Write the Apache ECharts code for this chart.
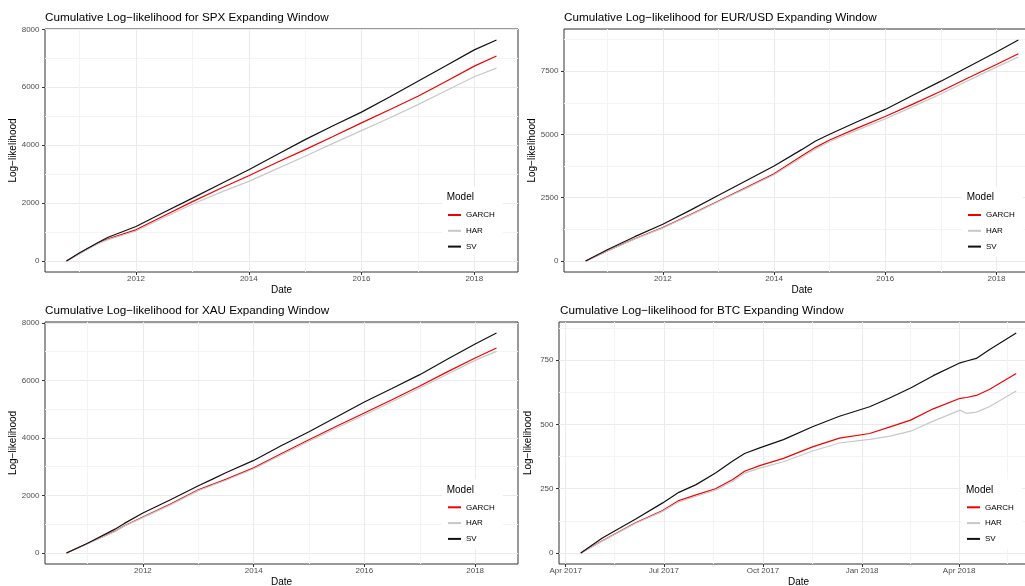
<!DOCTYPE html>
<html>
<head>
<meta charset="utf-8">
<script src="https://cdn.jsdelivr.net/npm/echarts@6/dist/echarts.min.js"></script>
<style>
html,body{margin:0;padding:0;background:#fff;}
#chart{width:1025px;height:586px;}
</style>
</head>
<body>
<div id="chart"></div>
<script>
// ---------- DATA ----------
const modelNames = ['GARCH', 'HAR', 'SV'];

const spxTitle = 'Cumulative Log\u2212likelihood for SPX Expanding Window';
const spxDates = ['2010-10-08','2011-01-01','2011-05-01','2011-07-01','2012-01-01','2012-07-01','2013-01-01','2013-07-01','2014-01-01','2014-07-01','2015-01-01','2015-07-01','2016-01-01','2016-07-01','2017-01-01','2017-07-01','2018-01-01','2018-05-25'];
const spxGARCH = [0,260,620,760,1075,1560,2050,2500,2945,3400,3845,4300,4770,5220,5690,6200,6730,7080];
const spxHAR   = [0,250,600,730,1035,1500,1960,2370,2750,3180,3615,4060,4500,4940,5400,5880,6360,6660];
const spxSV    = [0,280,640,810,1188,1680,2170,2660,3150,3670,4190,4670,5140,5660,6210,6740,7290,7630];
const spxXMajor = ['2012-01-01','2014-01-01','2016-01-01','2018-01-01'];
const spxXMinor = ['2011-01-01','2013-01-01','2015-01-01','2017-01-01'];
const spxXLabels = ['2012','2014','2016','2018'];
const spxYMajor = [0,2000,4000,6000,8000];
const spxYMinor = [1000,3000,5000,7000];

const eurTitle = 'Cumulative Log\u2212likelihood for EUR/USD Expanding Window';
const eurDates = ['2010-08-12','2011-01-01','2011-07-01','2012-01-01','2012-07-01','2013-01-01','2013-07-01','2014-01-01','2014-07-01','2014-10-01','2015-01-01','2015-07-01','2016-01-01','2016-07-01','2017-01-01','2017-07-01','2018-01-01','2018-05-25'];
const eurGARCH = [0,400,880,1321,1830,2370,2900,3450,4150,4490,4780,5250,5710,6200,6710,7240,7768,8190];
const eurHAR   = [0,395,870,1300,1810,2350,2870,3410,4090,4430,4720,5170,5610,6100,6600,7130,7660,8060];
const eurSV    = [0,440,960,1453,2010,2600,3170,3750,4400,4740,5010,5500,5990,6550,7107,7680,8256,8732];
const eurXMajor = ['2012-01-01','2014-01-01','2016-01-01','2018-01-01'];
const eurXMinor = ['2011-01-01','2013-01-01','2015-01-01','2017-01-01'];
const eurXLabels = ['2012','2014','2016','2018'];
const eurYMajor = [0,2500,5000,7500];
const eurYMinor = [1250,3750,6250,8750];

const xauTitle = 'Cumulative Log\u2212likelihood for XAU Expanding Window';
const xauDates = ['2010-08-15','2011-01-01','2011-07-01','2011-09-01','2012-01-01','2012-07-01','2013-01-01','2013-04-01','2013-07-01','2014-01-01','2014-07-01','2015-01-01','2015-07-01','2016-01-01','2016-07-01','2017-01-01','2017-07-01','2018-01-01','2018-05-22'];
const xauGARCH = [0,330,760,950,1250,1700,2200,2380,2560,2960,3450,3940,4410,4870,5330,5809,6300,6783,7130];
const xauHAR   = [0,325,750,940,1230,1675,2170,2350,2530,2930,3410,3890,4350,4800,5260,5740,6220,6700,7014];
const xauSV    = [0,340,830,1030,1390,1850,2340,2560,2790,3220,3730,4220,4730,5252,5720,6203,6740,7270,7652];
const xauXMajor = ['2012-01-01','2014-01-01','2016-01-01','2018-01-01'];
const xauXMinor = ['2011-01-01','2013-01-01','2015-01-01','2017-01-01'];
const xauXLabels = ['2012','2014','2016','2018'];
const xauYMajor = [0,2000,4000,6000,8000];
const xauYMinor = [1000,3000,5000,7000];

const btcTitle = 'Cumulative Log\u2212likelihood for BTC Expanding Window';
const btcDates = ['2017-04-15','2017-05-05','2017-06-05','2017-06-30','2017-07-15','2017-07-31','2017-08-18','2017-09-03','2017-09-14','2017-09-28','2017-10-20','2017-11-16','2017-12-11','2018-01-08','2018-01-27','2018-02-15','2018-03-08','2018-04-02','2018-04-08','2018-04-17','2018-04-29','2018-05-24'];
const btcGARCH = [0,48,118,165,204,226,250,286,318,340,368,413,447,465,491,517,561,602,605,613,636,698];
const btcHAR   = [0,47,116,162,199,221,244,279,311,330,355,397,428,442,455,474,513,556,543,548,569,630];
const btcSV    = [0,58,132,195,236,266,311,358,387,409,441,491,532,569,604,642,690,740,747,757,791,856];
const btcXMajor = ['2017-04-01','2017-07-01','2017-10-01','2018-01-01','2018-04-01'];
const btcXMinor = ['2017-05-16','2017-08-16','2017-11-16','2018-02-15','2018-05-16'];
const btcXLabels = ['Apr 2017','Jul 2017','Oct 2017','Jan 2018','Apr 2018'];
const btcYMajor = [0,250,500,750];
const btcYMinor = [125,375,625,875];

// ---------- LAYOUT / STYLE ----------
const FONT = '"Liberation Sans", Arial, sans-serif';
const seriesColors = { GARCH: '#f00000', HAR: '#c8c8c8', SV: '#111111' };
const DAY = 86400000;

// dates -> day number (UTC based, no timezone effects)
function toDay(s) {
  const p = s.split('-').map(Number);
  return Date.UTC(p[0], p[1] - 1, p[2]) / DAY;
}

const panels = [
  { title: spxTitle, dates: spxDates, vals: [spxGARCH, spxHAR, spxSV], xMajor: spxXMajor, xMinor: spxXMinor, xLabels: spxXLabels, yMajor: spxYMajor, yMinor: spxYMinor,
    grid: { left: 45, top: 29, width: 473, height: 243 }, titlePos: [45, 10.3], legendPos: [442, 187], modelPos: [446.7, 191.7] },
  { title: eurTitle, dates: eurDates, vals: [eurGARCH, eurHAR, eurSV], xMajor: eurXMajor, xMinor: eurXMinor, xLabels: eurXLabels, yMajor: eurYMajor, yMinor: eurYMinor,
    grid: { left: 564, top: 29, width: 476, height: 243 }, titlePos: [564, 10.3], legendPos: [962, 187], modelPos: [966.7, 191.7] },
  { title: xauTitle, dates: xauDates, vals: [xauGARCH, xauHAR, xauSV], xMajor: xauXMajor, xMinor: xauXMinor, xLabels: xauXLabels, yMajor: xauYMajor, yMinor: xauYMinor,
    grid: { left: 45, top: 322, width: 473, height: 242 }, titlePos: [45, 303.7], legendPos: [442, 479.3], modelPos: [446.7, 484] },
  { title: btcTitle, dates: btcDates, vals: [btcGARCH, btcHAR, btcSV], xMajor: btcXMajor, xMinor: btcXMinor, xLabels: btcXLabels, yMajor: btcYMajor, yMinor: btcYMinor,
    grid: { left: 559, top: 322, width: 479, height: 242 }, titlePos: [560, 303.7], legendPos: [961, 479.3], modelPos: [966, 484] }
];

const option = {
  animation: false,
  backgroundColor: '#ffffff',
  title: [], legend: [], grid: [], xAxis: [], yAxis: [], series: []
};

panels.forEach((p, i) => {
  const t0 = toDay(p.dates[0]), t1 = toDay(p.dates[p.dates.length - 1]);
  const span = t1 - t0;
  const xmin = t0 - 0.05 * span, xmax = t1 + 0.05 * span;
  let vmax = -Infinity, vmin = Infinity;
  p.vals.forEach(a => a.forEach(v => { vmax = Math.max(vmax, v); vmin = Math.min(vmin, v); }));
  const vr = vmax - vmin;
  const ymin = vmin - 0.05 * vr, ymax = vmax + 0.05 * vr;

  const xMajorD = p.xMajor.map(toDay);
  const xMinorD = p.xMinor.map(toDay);
  const labelMap = {};
  xMajorD.forEach((t, k) => { labelMap[t] = p.xLabels[k]; });

  option.grid.push(Object.assign({
    show: true, borderColor: '#333333', borderWidth: 1, backgroundColor: '#ffffff',
    containLabel: false, outerBoundsMode: 'none'
  }, p.grid));

  option.title.push({
    text: p.title, left: p.titlePos[0], top: p.titlePos[1], padding: 0,
    textStyle: { fontFamily: FONT, fontSize: 11.7, fontWeight: 'normal', color: '#000', lineHeight: 14 }
  });
  option.title.push({
    text: 'Model', left: p.modelPos[0], top: p.modelPos[1], padding: 0, z: 10,
    textStyle: { fontFamily: FONT, fontSize: 10, fontWeight: 'normal', color: '#000', lineHeight: 12 }
  });

  option.legend.push({
    orient: 'vertical', left: p.legendPos[0], top: p.legendPos[1],
    padding: [23, 8, 5, 6], backgroundColor: '#ffffff',
    itemWidth: 13, itemHeight: 2, itemGap: 5.8, icon: 'rect',
    data: modelNames, selectedMode: false,
    textStyle: { fontFamily: FONT, fontSize: 8, color: '#000', lineHeight: 10 }
  });

  option.xAxis.push({
    type: 'value', gridIndex: i, min: xmin, max: xmax, scale: true, position: 'bottom',
    axisLine: { show: false, onZero: false },
    axisTick: { show: true, length: 3, inside: false, lineStyle: { color: '#333', width: 1 }, customValues: xMajorD },
    axisLabel: { show: true, customValues: xMajorD, margin: 3, fontFamily: FONT, fontSize: 8, color: '#4d4d4d',
      formatter: v => (labelMap[v] !== undefined ? labelMap[v] : '') },
    splitLine: { show: true, lineStyle: { color: '#ebebeb', width: 1 } },
    name: 'Date', nameLocation: 'middle', nameGap: 13,
    nameTextStyle: { fontFamily: FONT, fontSize: 10, color: '#000' }
  });
  option.xAxis.push({
    type: 'value', gridIndex: i, min: xmin, max: xmax, scale: true, position: 'top',
    axisLine: { show: false, onZero: false },
    axisTick: { show: false, customValues: xMinorD },
    axisLabel: { show: false, customValues: xMinorD },
    splitLine: { show: true, lineStyle: { color: '#f4f4f4', width: 1 } }
  });
  option.yAxis.push({
    type: 'value', gridIndex: i, min: ymin, max: ymax, position: 'left',
    axisLine: { show: false, onZero: false },
    axisTick: { show: true, length: 3, inside: false, lineStyle: { color: '#333', width: 1 }, customValues: p.yMajor },
    axisLabel: { show: true, customValues: p.yMajor, margin: 5.5, fontFamily: FONT, fontSize: 8, color: '#4d4d4d',
      formatter: v => String(v) },
    splitLine: { show: true, lineStyle: { color: '#ebebeb', width: 1 } },
    name: 'Log\u2212likelihood', nameLocation: 'middle', nameGap: 26,
    nameTextStyle: { fontFamily: FONT, fontSize: 10, color: '#000' }
  });
  option.yAxis.push({
    type: 'value', gridIndex: i, min: ymin, max: ymax, position: 'right',
    axisLine: { show: false, onZero: false },
    axisTick: { show: false, customValues: p.yMinor },
    axisLabel: { show: false, customValues: p.yMinor },
    splitLine: { show: true, lineStyle: { color: '#f4f4f4', width: 1 } }
  });

  modelNames.forEach((name, k) => {
    option.series.push({
      type: 'line', name: name,
      xAxisIndex: 2 * i, yAxisIndex: 2 * i,
      data: p.dates.map((d, j) => [toDay(d), p.vals[k][j]]),
      showSymbol: false, symbol: 'none', smooth: false,
      color: seriesColors[name],
      lineStyle: { color: seriesColors[name], width: 1.2 },
      itemStyle: { color: seriesColors[name] },
      z: 3 + k, silent: true
    });
  });
});

const chart = echarts.init(document.getElementById('chart'), null, { renderer: 'canvas' });
chart.setOption(option);
</script>
</body>
</html>
